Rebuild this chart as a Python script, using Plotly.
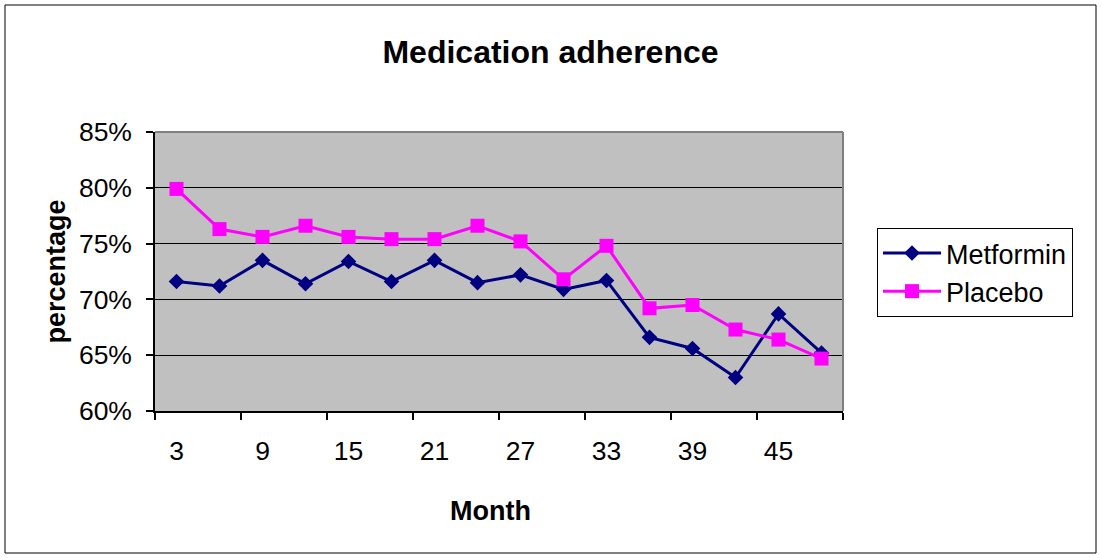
import plotly.graph_objects as go

months = [3, 6, 9, 12, 15, 18, 21, 24, 27, 30, 33, 36, 39, 42, 45, 48]
metformin = [71.6, 71.2, 73.5, 71.4, 73.4, 71.6, 73.5, 71.5, 72.2, 70.9, 71.7, 66.6, 65.6, 63.0, 68.7, 65.2]
placebo = [79.9, 76.3, 75.6, 76.6, 75.6, 75.4, 75.4, 76.6, 75.2, 71.8, 74.8, 69.2, 69.5, 67.3, 66.4, 64.7]
x_tick_labels = [3, 9, 15, 21, 27, 33, 39, 45]
y_ticks = [0.60, 0.65, 0.70, 0.75, 0.80, 0.85]

FONT = "Arial, Liberation Sans, sans-serif"

fig = go.Figure()
fig.add_trace(go.Scatter(
    x=months, y=[v / 100 for v in metformin], name="Metformin",
    mode="lines+markers",
    line=dict(color="#000080", width=3),
    marker=dict(symbol="diamond", size=12, color="#000080"),
))
fig.add_trace(go.Scatter(
    x=months, y=[v / 100 for v in placebo], name="Placebo",
    mode="lines+markers",
    line=dict(color="#FF00FF", width=3),
    marker=dict(symbol="square", size=14, color="#FF00FF"),
))

W, H = 1101, 558
L, R, T, B = 155, 843, 132, 411
pw, ph = R - L, B - T

fig.update_layout(
    width=W, height=H,
    margin=dict(l=L, r=W - R, t=T, b=H - B, pad=0),
    paper_bgcolor="white",
    plot_bgcolor="#C0C0C0",
    font=dict(family=FONT, size=26.5, color="black"),
    title=dict(text="<b>Medication adherence</b>", x=0.5, xref="container",
               y=1 - 52 / H, yref="container", yanchor="middle", xanchor="center",
               font=dict(size=32, family=FONT)),
    showlegend=True,
    legend=dict(x=(877 - L) / pw, y=(B - 228) / ph, xanchor="left", yanchor="top",
                bordercolor="black", borderwidth=1, bgcolor="white",
                font=dict(size=27, family=FONT), tracegroupgap=0,
                itemwidth=58),
    xaxis=dict(
        range=[1.5, 49.5], tickmode="array", tickvals=x_tick_labels,
        ticktext=[str(v) for v in x_tick_labels],
        ticks="", showgrid=False, zeroline=False,
        showline=True, linecolor="black", linewidth=1.5,
        ticklabelstandoff=15,
        minor=dict(tickmode="array", tickvals=[1.5 + 6 * i for i in range(9)],
                   ticks="outside", ticklen=7, tickcolor="black", tickwidth=1.5,
                   showgrid=False),
    ),
    yaxis=dict(
        range=[0.60, 0.85], tickmode="array", tickvals=y_ticks,
        tickformat=".0%", ticks="outside", ticklen=7, tickcolor="black", tickwidth=1.5,
        showgrid=True, gridcolor="black", gridwidth=1, zeroline=False,
        showline=True, linecolor="black", linewidth=1.5,
        ticklabelstandoff=9,
    ),
    shapes=[
        dict(type="line", xref="paper", yref="paper", x0=0, x1=1, y0=1, y1=1,
             line=dict(color="#808080", width=2)),
        dict(type="line", xref="paper", yref="paper", x0=1, x1=1, y0=0, y1=1,
             line=dict(color="#808080", width=2)),
        dict(type="rect", xref="paper", yref="paper",
             x0=(5 - L) / pw, x1=(1096 - L) / pw,
             y0=(B - 553) / ph, y1=(B - 5) / ph,
             line=dict(color="black", width=1), layer="below"),
    ],
    annotations=[
        dict(text="<b>percentage</b>", xref="paper", yref="paper",
             x=(55 - L) / pw, y=0.5, textangle=-90, showarrow=False,
             font=dict(size=27, family=FONT), xanchor="center", yanchor="middle"),
        dict(text="<b>Month</b>", xref="paper", yref="paper",
             x=(490 - L) / pw, y=(B - 511) / ph, showarrow=False,
             font=dict(size=27, family=FONT), xanchor="center", yanchor="middle"),
    ],
)

fig.write_html("out.html", config={"displayModeBar": False},
               post_script="document.body.style.margin='0';document.body.style.overflow='hidden';")
